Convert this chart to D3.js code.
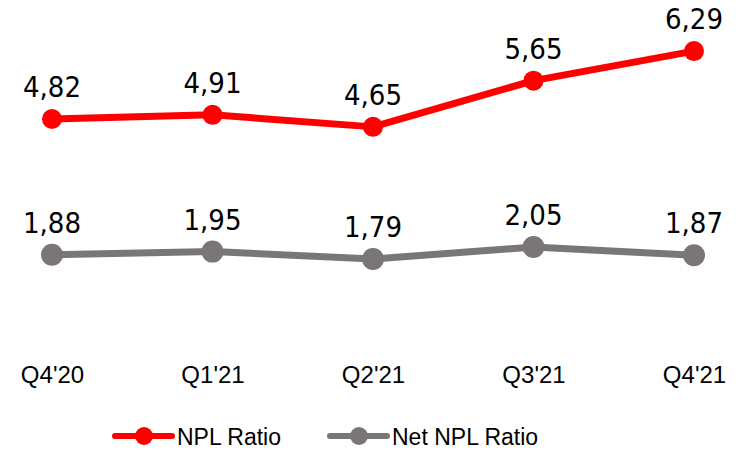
<!DOCTYPE html>
<html><head><meta charset="utf-8">
<script src="https://cdn.jsdelivr.net/npm/d3@7"></script>
<style>body{margin:0;background:#fff}svg{display:block}</style>
</head><body><svg id="c" width="742" height="451"></svg>
<script>
const categories = ["Q4'20","Q1'21","Q2'21","Q3'21","Q4'21"];
const nplRatio = [4.82, 4.91, 4.65, 5.65, 6.29];
const netNplRatio = [1.88, 1.95, 1.79, 2.05, 1.87];
const seriesNames = ["NPL Ratio", "Net NPL Ratio"];
const colors = ["#ff0000", "#7a7676"];

const svg = d3.select("#c");
const x = d3.scalePoint().domain(categories).range([52, 694]);
const y = d3.scaleLinear().domain([0, 7]).range([341.7, 18.3]);
const fmt = v => d3.format(".2f")(v).replace(".", ",");
const labelFont = "'DejaVu Sans Condensed','DejaVu Sans',sans-serif";
const axisFont = "'Liberation Sans',Arial,sans-serif";

const series = [nplRatio, netNplRatio];
series.forEach((vals, si) => {
  const data = categories.map((c, i) => ({c, v: vals[i]}));
  const line = d3.line().x(d => x(d.c)).y(d => y(d.v));
  svg.append("path").datum(data).attr("d", line)
    .attr("fill", "none").attr("stroke", colors[si]).attr("stroke-width", 7)
    .attr("stroke-linejoin", "round");
  svg.selectAll(null).data(data).enter().append("circle")
    .attr("cx", d => x(d.c)).attr("cy", d => y(d.v)).attr("r", si === 0 ? 10 : 11)
    .attr("fill", colors[si]);
  svg.selectAll(null).data(data).enter().append("text")
    .attr("x", d => x(d.c)).attr("y", d => y(d.v) - 22)
    .attr("text-anchor", "middle").attr("font-family", labelFont)
    .attr("font-size", 29).attr("fill", "#000").text(d => fmt(d.v));
});

// x axis labels
const xAxis = d3.axisBottom(x).tickSize(0).tickPadding(0);
const gx = svg.append("g").attr("transform", "translate(0,366)").call(xAxis);
gx.select(".domain").remove();
gx.selectAll("text").attr("font-family", axisFont).attr("font-size", 24)
  .attr("fill", "#000").attr("dy", "0.71em");

// legend
const legendX = [115, 330];
seriesNames.forEach((name, si) => {
  const g = svg.append("g").attr("transform", `translate(${legendX[si]},436)`);
  g.append("line").attr("x1", 0).attr("x2", 57).attr("y1", 0).attr("y2", 0)
    .attr("stroke", colors[si]).attr("stroke-width", 6).attr("stroke-linecap", "round");
  g.append("circle").attr("cx", 29).attr("cy", 0).attr("r", 9).attr("fill", colors[si]);
  g.append("text").attr("x", 62).attr("y", 9).attr("font-family", axisFont)
    .attr("font-size", 23).attr("fill", "#000").text(name);
});
</script></body></html>
